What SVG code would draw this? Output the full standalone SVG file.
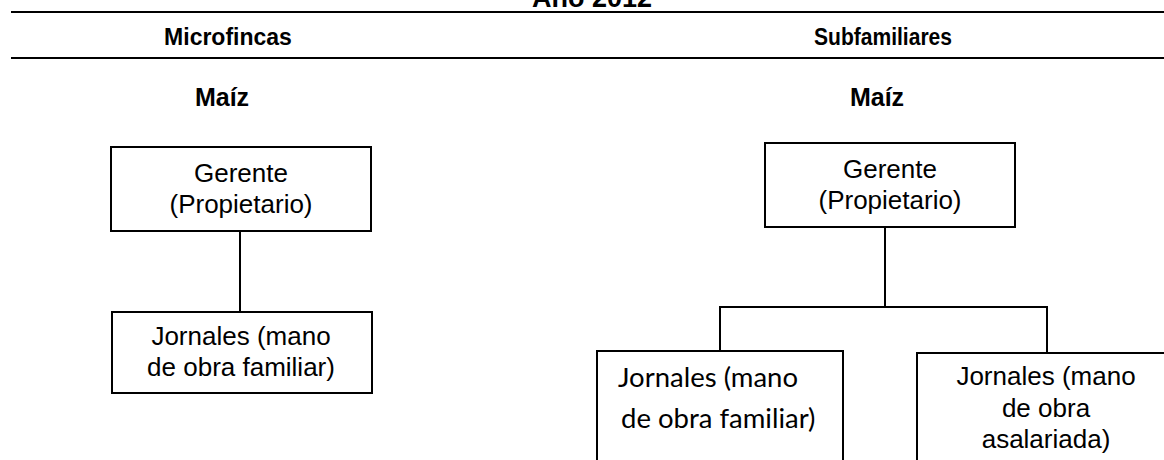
<svg xmlns="http://www.w3.org/2000/svg" width="1164" height="460" viewBox="0 0 1164 460">
<style>
.rule{stroke:#000;stroke-width:2;fill:none}
.box{fill:#fff;stroke:#000;stroke-width:2}
.hd{font-family:"Liberation Sans",Arial,sans-serif;font-weight:bold;font-size:23px;text-anchor:middle;fill:#000}
.mz{font-size:25px}
.t{font-family:"Liberation Sans",Arial,sans-serif;font-size:26px;text-anchor:middle;fill:#000}
.c{font-family:Lato,"Open Sans",sans-serif;font-size:27.5px;fill:#000}
.ln{stroke:#000;stroke-width:2;fill:none}
</style>
<rect width="1164" height="460" fill="#fff"/>
<g id="header">
<text class="hd" x="592" y="7" style="font-size:27px">Año 2012</text>
<line class="rule" x1="11" y1="12" x2="1164" y2="12"/>
<text class="hd" x="228" y="45">Microfincas</text>
<text class="hd" x="883" y="45" textLength="138" lengthAdjust="spacingAndGlyphs">Subfamiliares</text>
<line class="rule" x1="11" y1="58" x2="1164" y2="58"/>
<text class="hd mz" x="222" y="106">Maíz</text>
<text class="hd mz" x="877" y="106">Maíz</text>
</g>
<g id="connectors">
<line class="ln" x1="240" y1="231" x2="240" y2="312"/>
<polyline class="ln" points="885,227 885,307"/>
<polyline class="ln" points="720,352 720,307 1047,307 1047,353"/>
</g>
<g id="gerente-micro">
<rect class="box" x="111" y="147" width="260" height="84"/>
<text class="t" x="241" y="182">Gerente</text>
<text class="t" x="241" y="213">(Propietario)</text>
</g>
<g id="jornales-micro">
<rect class="box" x="112" y="312" width="260" height="81"/>
<text class="t" x="241" y="345">Jornales (mano</text>
<text class="t" x="241" y="376">de obra familiar)</text>
</g>
<g id="gerente-sub">
<rect class="box" x="765" y="143" width="250" height="84"/>
<text class="t" x="890" y="178">Gerente</text>
<text class="t" x="890" y="209">(Propietario)</text>
</g>
<g id="jornales-familiar">
<rect class="box" x="597" y="351" width="246" height="130"/>
<text class="c" x="618" y="387">Jornales (mano</text>
<text class="c" x="621" y="428">de obra familiar)</text>
</g>
<g id="jornales-asalariada">
<rect class="box" x="917" y="353" width="260" height="130"/>
<text class="t" x="1046" y="385">Jornales (mano</text>
<text class="t" x="1046" y="417">de obra</text>
<text class="t" x="1046" y="448">asalariada)</text>
</g>
</svg>
